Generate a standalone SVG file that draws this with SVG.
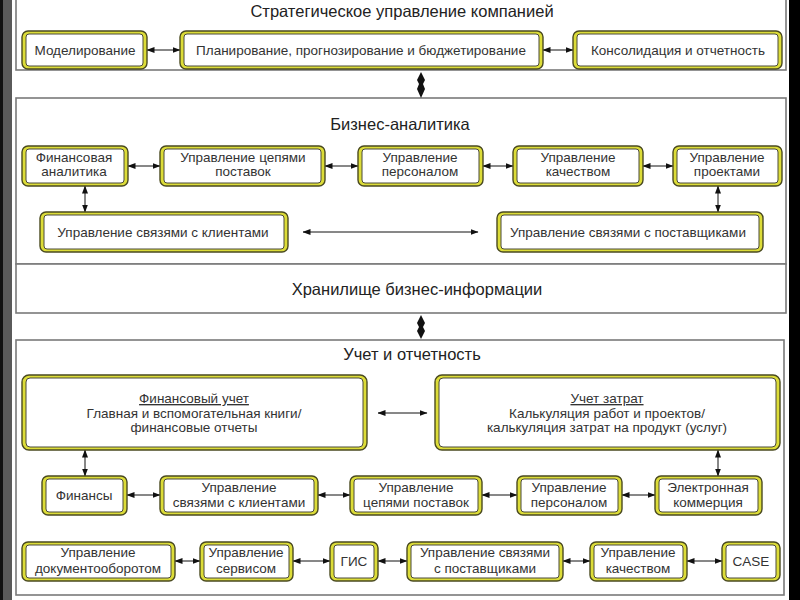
<svg xmlns="http://www.w3.org/2000/svg" width="800" height="600" viewBox="0 0 800 600">
<defs>
<style>
.panel{fill:#fff;stroke:#7a7a7a;stroke-width:1.6}
.o{fill:#dcdc38;stroke:#4a4a20;stroke-width:1.4}
.i{fill:#fff;stroke:#4a4a3a;stroke-width:1}
.t{font-family:"Liberation Sans",Arial,sans-serif;font-size:13.5px;fill:#333;text-anchor:middle}
.h{font-family:"Liberation Sans",Arial,sans-serif;font-size:16.5px;fill:#222;text-anchor:middle}
.c{stroke:#111;stroke-width:1;fill:none;marker-start:url(#a);marker-end:url(#a)}
.big{fill:#111}
</style>
<marker id="a" viewBox="0 0 8 8" refX="7.5" refY="4" markerWidth="8" markerHeight="8" markerUnits="userSpaceOnUse" orient="auto-start-reverse">
<path d="M0,1 L8,4 L0,7 Z" fill="#111"/>
</marker>
</defs>
<rect x="0" y="0" width="800" height="600" fill="#fff"/>
<rect x="0" y="0" width="12" height="600" fill="#5a5a5a"/>
<rect x="0" y="0" width="3" height="600" fill="#111"/>
<rect x="789" y="0" width="11" height="600" fill="#000"/>

<g id="panels">
<rect class="panel" x="16" y="-2" width="770" height="72"/>
<rect class="panel" x="16" y="98" width="770" height="166"/>
<rect class="panel" x="16" y="264" width="770" height="49"/>
<rect class="panel" x="16" y="340" width="768" height="255"/>
<text class="h" x="402" y="17">Стратегическое управление компанией</text>
<text class="h" x="400" y="130">Бизнес-аналитика</text>
<text class="h" x="417" y="295">Хранилище бизнес-информации</text>
<text class="h" x="412" y="360">Учет и отчетность</text>
</g>

<g id="connectors">
<line class="c" x1="147" y1="50" x2="180" y2="50"/>
<line class="c" x1="543" y1="50" x2="573" y2="50"/>
<path class="big" d="M421,72 L425,80 L423,84 L425,89 L421,98 L417,89 L419,84 L417,80 Z"/>
<line class="c" x1="128" y1="166" x2="160" y2="166"/>
<line class="c" x1="325" y1="166" x2="358" y2="166"/>
<line class="c" x1="483" y1="166" x2="513" y2="166"/>
<line class="c" x1="643" y1="166" x2="673" y2="166"/>
<line class="c" x1="85" y1="186" x2="85" y2="212"/>
<line class="c" x1="718" y1="186" x2="718" y2="212"/>
<line class="c" x1="303" y1="232" x2="478" y2="232"/>
<path class="big" d="M421,315 L425,323 L423,327 L425,331 L421,339 L417,331 L419,327 L417,323 Z"/>
<line class="c" x1="378" y1="413" x2="427" y2="413"/>
<line class="c" x1="85" y1="450" x2="85" y2="476"/>
<line class="c" x1="718" y1="450" x2="718" y2="476"/>
<line class="c" x1="127" y1="495" x2="160" y2="495"/>
<line class="c" x1="318" y1="495" x2="350" y2="495"/>
<line class="c" x1="482" y1="495" x2="517" y2="495"/>
<line class="c" x1="622" y1="495" x2="655" y2="495"/>
<line class="c" x1="175" y1="561" x2="200" y2="561"/>
<line class="c" x1="293" y1="561" x2="330" y2="561"/>
<line class="c" x1="378" y1="561" x2="407" y2="561"/>
<line class="c" x1="563" y1="561" x2="590" y2="561"/>
<line class="c" x1="687" y1="561" x2="722" y2="561"/>
</g>

<g id="n-model"><rect class="o" x="22" y="31" width="125" height="38" rx="6"/><rect class="i" x="26" y="34" width="117" height="32" rx="3"/><text class="t" x="85" y="55">Моделирование</text></g>
<g id="n-plan"><rect class="o" x="180" y="31" width="363" height="38" rx="6"/><rect class="i" x="184" y="34" width="355" height="32" rx="3"/><text class="t" x="361" y="55">Планирование, прогнозирование и бюджетирование</text></g>
<g id="n-cons"><rect class="o" x="573" y="31" width="209" height="38" rx="6"/><rect class="i" x="577" y="34" width="201" height="32" rx="3"/><text class="t" x="678" y="55">Консолидация и отчетность</text></g>

<g id="n-finan"><rect class="o" x="22" y="146" width="106" height="40" rx="6"/><rect class="i" x="26" y="149" width="98" height="34" rx="3"/><text class="t" x="74" y="162">Финансовая</text><text class="t" x="74" y="176">аналитика</text></g>
<g id="n-scm"><rect class="o" x="160" y="146" width="165" height="40" rx="6"/><rect class="i" x="164" y="149" width="157" height="34" rx="3"/><text class="t" x="243" y="162">Управление цепями</text><text class="t" x="243" y="176">поставок</text></g>
<g id="n-hr"><rect class="o" x="358" y="146" width="125" height="40" rx="6"/><rect class="i" x="362" y="149" width="117" height="34" rx="3"/><text class="t" x="420" y="162">Управление</text><text class="t" x="420" y="176">персоналом</text></g>
<g id="n-qual"><rect class="o" x="513" y="146" width="130" height="40" rx="6"/><rect class="i" x="517" y="149" width="122" height="34" rx="3"/><text class="t" x="578" y="162">Управление</text><text class="t" x="578" y="176">качеством</text></g>
<g id="n-proj"><rect class="o" x="673" y="146" width="109" height="40" rx="6"/><rect class="i" x="677" y="149" width="101" height="34" rx="3"/><text class="t" x="727" y="162">Управление</text><text class="t" x="727" y="176">проектами</text></g>
<g id="n-crm"><rect class="o" x="40" y="212" width="248" height="40" rx="6"/><rect class="i" x="44" y="215" width="240" height="34" rx="3"/><text class="t" x="163" y="237">Управление связями с клиентами</text></g>
<g id="n-srm"><rect class="o" x="497" y="212" width="266" height="40" rx="6"/><rect class="i" x="501" y="215" width="258" height="34" rx="3"/><text class="t" x="628" y="237">Управление связями с поставщиками</text></g>

<g id="n-finacc"><rect class="o" x="22" y="375" width="345" height="75" rx="7"/><rect class="i" x="26" y="378" width="337" height="69" rx="4"/><text class="t" x="194" y="403" text-decoration="underline">Финансовый учет</text><text class="t" x="194" y="418">Главная и вспомогательная книги/</text><text class="t" x="194" y="432">финансовые отчеты</text></g>
<g id="n-cost"><rect class="o" x="435" y="375" width="345" height="75" rx="7"/><rect class="i" x="439" y="378" width="337" height="69" rx="4"/><text class="t" x="607" y="403" text-decoration="underline">Учет затрат</text><text class="t" x="607" y="418">Калькуляция работ и проектов/</text><text class="t" x="607" y="432">калькуляция затрат на продукт (услуг)</text></g>

<g id="n-fin"><rect class="o" x="42" y="476" width="85" height="39" rx="6"/><rect class="i" x="46" y="479" width="77" height="33" rx="3"/><text class="t" x="84" y="500">Финансы</text></g>
<g id="n-crm2"><rect class="o" x="160" y="476" width="158" height="39" rx="6"/><rect class="i" x="164" y="479" width="150" height="33" rx="3"/><text class="t" x="239" y="492">Управление</text><text class="t" x="239" y="507">связями с клиентами</text></g>
<g id="n-scm2"><rect class="o" x="350" y="476" width="132" height="39" rx="6"/><rect class="i" x="354" y="479" width="124" height="33" rx="3"/><text class="t" x="416" y="492">Управление</text><text class="t" x="416" y="507">цепями поставок</text></g>
<g id="n-hr2"><rect class="o" x="517" y="476" width="105" height="39" rx="6"/><rect class="i" x="521" y="479" width="97" height="33" rx="3"/><text class="t" x="569" y="492">Управление</text><text class="t" x="569" y="507">персоналом</text></g>
<g id="n-ecom"><rect class="o" x="655" y="476" width="107" height="39" rx="6"/><rect class="i" x="659" y="479" width="99" height="33" rx="3"/><text class="t" x="708" y="492">Электронная</text><text class="t" x="708" y="507">коммерция</text></g>

<g id="n-doc"><rect class="o" x="22" y="542" width="153" height="39" rx="6"/><rect class="i" x="26" y="545" width="145" height="33" rx="3"/><text class="t" x="98" y="557">Управление</text><text class="t" x="98" y="573">документооборотом</text></g>
<g id="n-serv"><rect class="o" x="200" y="542" width="93" height="39" rx="6"/><rect class="i" x="204" y="545" width="85" height="33" rx="3"/><text class="t" x="246" y="557">Управление</text><text class="t" x="246" y="573">сервисом</text></g>
<g id="n-gis"><rect class="o" x="330" y="542" width="48" height="39" rx="6"/><rect class="i" x="334" y="545" width="40" height="33" rx="3"/><text class="t" x="354" y="566">ГИС</text></g>
<g id="n-srm2"><rect class="o" x="407" y="542" width="156" height="39" rx="6"/><rect class="i" x="411" y="545" width="148" height="33" rx="3"/><text class="t" x="485" y="557">Управление связями</text><text class="t" x="485" y="573">с поставщиками</text></g>
<g id="n-qual2"><rect class="o" x="590" y="542" width="97" height="39" rx="6"/><rect class="i" x="594" y="545" width="89" height="33" rx="3"/><text class="t" x="638" y="557">Управление</text><text class="t" x="638" y="573">качеством</text></g>
<g id="n-case"><rect class="o" x="722" y="542" width="58" height="39" rx="6"/><rect class="i" x="726" y="545" width="50" height="33" rx="3"/><text class="t" x="751" y="566">CASE</text></g>
</svg>
